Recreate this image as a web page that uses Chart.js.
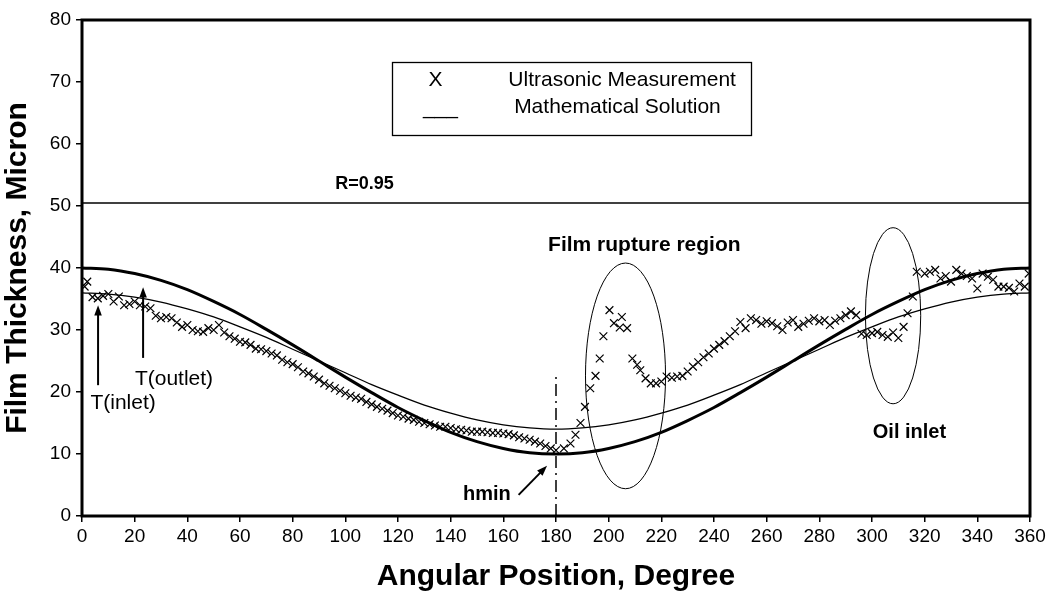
<!DOCTYPE html>
<html>
<head>
<meta charset="utf-8">
<script src="https://cdn.jsdelivr.net/npm/chart.js@4/dist/chart.umd.min.js"></script>
<style>
  html, body { margin: 0; padding: 0; background: #fff; }
  #wrap { width: 1054px; height: 595px; }
</style>
</head>
<body>
<div id="wrap"><canvas id="chart"></canvas></div>
<script>
// ultrasonic measurement points (angle in degrees, film thickness in micron)
const measAngle = [
  1, 2, 4, 6, 8, 10, 12, 14, 16, 18, 20, 22, 24, 26, 28, 30, 32, 34, 36, 38,
  40, 42, 44, 46, 48, 50, 52, 54, 56, 58, 60, 62, 64, 66, 68, 70, 72, 74, 76, 78,
  80, 82, 84, 86, 88, 90, 92, 94, 96, 98, 100, 102, 104, 106, 108, 110, 112, 114, 116, 118,
  120, 122, 124, 126, 128, 130, 132, 134, 136, 138, 140, 142, 144, 146, 148, 150, 152, 154, 156, 158,
  160, 162, 164, 166, 168, 170, 172, 174, 176, 178, 180, 183, 185.5, 187.4, 189.3, 191, 193, 195, 196.6, 198,
  200.3, 202, 204.2, 205, 207, 209, 210.8, 212, 214, 216, 218, 220, 222, 224, 226, 228, 230, 232, 234, 236,
  238, 240, 242, 244, 246, 248, 250, 252, 254, 256, 258, 260, 262, 264, 266, 268, 270, 272, 274, 276,
  278, 280, 282, 284, 286, 288, 290, 292, 294, 296, 298, 300, 302, 304, 306, 308, 310, 312, 313.5, 315.5,
  317, 320, 322, 324, 326, 328, 330, 332, 334, 336, 338, 340, 342, 344, 346, 348, 350, 352, 354, 356,
  358, 359.5
];
const measThick = [
  37.0, 37.8, 35.3, 35.1, 35.5, 35.8, 34.6, 35.4, 34.0, 34.2, 34.6, 34.0, 33.8, 33.5, 32.3, 31.9, 32.1, 31.9, 31.2, 30.5,
  30.8, 30.0, 29.8, 29.7, 30.3, 30.0, 30.8, 29.6, 29.0, 28.6, 28.1, 28.0, 27.6, 27.0, 26.9, 26.6, 26.2, 25.9, 25.2, 24.8,
  24.5, 24.0, 23.3, 23.0, 22.5, 22.0, 21.4, 21.0, 20.6, 20.2, 19.8, 19.4, 19.1, 18.9, 18.4, 18.0, 17.6, 17.3, 17.0, 16.6,
  16.2, 16.0, 15.7, 15.5, 15.2, 15.0, 14.8, 14.6, 14.4, 14.4, 14.2, 14.0, 13.9, 13.8, 13.6, 13.6, 13.6, 13.5, 13.4, 13.4,
  13.3, 13.2, 13.0, 12.7, 12.5, 12.3, 12.0, 11.7, 11.3, 10.9, 10.6, 10.9, 11.7, 13.1, 15.0, 17.6, 20.6, 22.6, 25.4, 29.0,
  33.2, 31.1, 30.4, 32.1, 30.3, 25.4, 24.4, 23.5, 22.2, 21.4, 21.4, 21.7, 22.5, 22.3, 22.5, 22.6, 23.3, 24.1, 24.8, 25.6,
  26.2, 27.0, 27.6, 28.2, 29.0, 29.8, 31.3, 30.3, 31.9, 31.6, 31.0, 31.4, 31.1, 30.6, 30.0, 31.2, 31.6, 30.5, 31.0, 31.5,
  31.9, 31.4, 31.6, 30.8, 31.5, 31.9, 32.4, 33.0, 32.4, 29.4, 29.2, 29.5, 29.7, 29.2, 28.9, 29.6, 28.7, 30.5, 32.7, 35.4,
  39.4, 39.1, 39.4, 39.7, 38.3, 38.7, 37.8, 39.7, 39.1, 38.7, 38.3, 36.7, 39.1, 38.6, 38.1, 37.0, 37.0, 36.8, 36.2, 37.5,
  37.0, 39.1
];

// mathematical solution, read every 10 degrees
const curveAngle = [0, 10, 20, 30, 40, 50, 60, 70, 80, 90, 100, 110, 120, 130, 140, 150, 160, 170, 180,
  190, 200, 210, 220, 230, 240, 250, 260, 270, 280, 290, 300, 310, 320, 330, 340, 350, 360];
const thickCurve = [40.0, 39.8, 39.1, 38.0, 36.5, 34.6, 32.5, 30.1, 27.6, 25.0, 22.4, 19.9, 17.5, 15.4, 13.5, 12.0, 10.9, 10.2, 10.0,
  10.2, 10.9, 12.0, 13.5, 15.4, 17.5, 19.9, 22.4, 25.0, 27.6, 30.1, 32.5, 34.6, 36.5, 38.0, 39.1, 39.8, 40.0];
const thinCurve = [36.0, 35.8, 35.3, 34.5, 33.4, 32.1, 30.5, 28.8, 26.9, 25.0, 23.1, 21.2, 19.5, 17.9, 16.6, 15.5, 14.7, 14.2, 14.0,
  14.2, 14.7, 15.5, 16.6, 17.9, 19.5, 21.2, 23.1, 25.0, 26.9, 28.8, 30.5, 32.1, 33.4, 34.5, 35.3, 35.8, 36.0];

// R=0.95 reference line and hmin marker
const rLineAngle = [0, 360];
const rLineValue = [50.5, 50.5];
const hminAngle = [180, 180];
const hminValue = [0, 23.2];

// axis ranges and tick steps [min, max, step]
const xAxis = [0, 360, 20];
const yAxis = [0, 80, 10];

const FONT = "Arial, 'Liberation Sans', sans-serif";

function pts(xs, ys) {
  return xs.map((x, i) => ({ x: x, y: ys[i] }));
}

// things drawn on top: frame, legend box, labels, arrows, ellipses
const notes = {
  texts: [
    { t: "R=0.95", x: 96.2, y: 53.5, bold: true, size: 18 },
    { t: "Film rupture region", x: 177, y: 43.7, bold: true, size: 21 },
    { t: "Oil inlet", x: 300.3, y: 13.4, bold: true, size: 20 },
    { t: "hmin", x: 144.7, y: 3.4, bold: true, size: 20 },
    { t: "T(inlet)", x: 3.2, y: 18.2, bold: false, size: 21 },
    { t: "T(outlet)", x: 20.1, y: 22.1, bold: false, size: 21 }
  ],
  arrows: [
    { x1: 6.1, y1: 21.1, x2: 6.1, y2: 34.0 },
    { x1: 23.2, y1: 25.5, x2: 23.2, y2: 36.9 },
    { x1: 165.8, y1: 3.4, x2: 176.6, y2: 8.1 }
  ],
  ellipses: [
    { cx: 206.4, cy: 22.6, rx: 15.2, ry: 18.2 },
    { cx: 308, cy: 32.3, rx: 10.5, ry: 14.2 }
  ],
  legend: {
    box: { x1: 117.8, y1: 73.2, x2: 254, y2: 61.5 },
    rows: [
      { mark: "X", mx: 134.2, my: 70.3, label: "Ultrasonic Measurement", lx: 161.9, ly: 70.3 },
      { mark: "___", mx: 136.1, my: 64.8, label: "Mathematical Solution", lx: 164.1, ly: 66.0 }
    ]
  }
};

const overlay = {
  id: "overlay",
  afterDatasetsDraw(chart) {
    const c = chart.ctx, a = chart.chartArea;
    const xs = chart.scales.x, ys = chart.scales.y;
    const px = v => xs.getPixelForValue(v), py = v => ys.getPixelForValue(v);
    c.save();
    c.strokeStyle = "#000";
    c.fillStyle = "#000";

    // ellipses
    c.lineWidth = 1;
    notes.ellipses.forEach(e => {
      c.beginPath();
      c.ellipse(px(e.cx), py(e.cy), Math.abs(px(e.cx + e.rx) - px(e.cx)),
        Math.abs(py(e.cy + e.ry) - py(e.cy)), 0, 0, Math.PI * 2);
      c.stroke();
    });

    // arrows
    c.lineWidth = 2;
    notes.arrows.forEach(r => {
      const x1 = px(r.x1), y1 = py(r.y1), x2 = px(r.x2), y2 = py(r.y2);
      const ang = Math.atan2(y2 - y1, x2 - x1);
      c.beginPath();
      c.moveTo(x1, y1);
      c.lineTo(x2 - 6 * Math.cos(ang), y2 - 6 * Math.sin(ang));
      c.stroke();
      c.beginPath();
      c.moveTo(x2, y2);
      c.lineTo(x2 - 11 * Math.cos(ang - 0.35), y2 - 11 * Math.sin(ang - 0.35));
      c.lineTo(x2 - 11 * Math.cos(ang + 0.35), y2 - 11 * Math.sin(ang + 0.35));
      c.closePath();
      c.fill();
    });

    // text labels
    c.textBaseline = "middle";
    c.textAlign = "left";
    notes.texts.forEach(t => {
      c.font = (t.bold ? "bold " : "") + t.size + "px " + FONT;
      c.fillText(t.t, px(t.x), py(t.y));
    });

    // legend box
    const L = notes.legend;
    c.fillStyle = "#fff";
    const bx = Math.round(px(L.box.x1)), by = Math.round(py(L.box.y1));
    const bw = Math.round(px(L.box.x2)) - bx, bh = Math.round(py(L.box.y2)) - by;
    c.fillRect(bx, by, bw, bh);
    c.fillStyle = "#000";
    c.lineWidth = 1.3;
    c.strokeRect(bx + 0.5, by + 0.5, bw, bh);
    c.font = "21px " + FONT;
    L.rows.forEach(r => {
      c.textAlign = "center";
      c.textBaseline = r.mark === "X" ? "middle" : "alphabetic";
      c.fillText(r.mark, px(r.mx), py(r.my));
      c.textAlign = "left";
      c.textBaseline = "middle";
      c.fillText(r.label, px(r.lx), py(r.ly));
    });

    // plot frame
    c.lineWidth = 3;
    c.strokeRect(a.left, a.top, a.right - a.left, a.bottom - a.top);
    c.restore();
  }
};

new Chart(document.getElementById("chart"), {
  type: "scatter",
  data: {
    datasets: [
      {
        label: "Ultrasonic Measurement",
        data: pts(measAngle, measThick),
        pointStyle: "crossRot",
        pointRadius: 5.5,
        borderColor: "#000",
        backgroundColor: "#000",
        borderWidth: 1.2,
        showLine: false
      },
      {
        label: "Mathematical Solution",
        data: pts(curveAngle, thickCurve),
        showLine: true,
        pointRadius: 0,
        borderColor: "#000",
        borderWidth: 3,
        cubicInterpolationMode: "monotone"
      },
      {
        label: "Mathematical Solution (R)",
        data: pts(curveAngle, thinCurve),
        showLine: true,
        pointRadius: 0,
        borderColor: "#000",
        borderWidth: 1.3,
        cubicInterpolationMode: "monotone"
      },
      {
        label: "R=0.95",
        data: pts(rLineAngle, rLineValue),
        showLine: true,
        pointRadius: 0,
        borderColor: "#000",
        borderWidth: 1.5
      },
      {
        label: "hmin",
        data: pts(hminAngle, hminValue),
        showLine: true,
        pointRadius: 0,
        borderColor: "#000",
        borderWidth: 1.5,
        borderDash: [12, 5, 2, 5]
      }
    ]
  },
  options: {
    responsive: true,
    maintainAspectRatio: false,
    animation: false,
    layout: { padding: { left: 0, top: 20, right: 24, bottom: 0 } },
    plugins: {
      legend: { display: false },
      tooltip: { enabled: false }
    },
    scales: {
      x: {
        type: "linear",
        min: xAxis[0],
        max: xAxis[1],
        afterFit: s => { s.height = 79; },
        ticks: {
          stepSize: xAxis[2],
          autoSkip: false,
          maxRotation: 0,
          color: "#000",
          padding: 3,
          font: { family: FONT, size: 19 }
        },
        grid: { drawOnChartArea: false, drawTicks: true, tickLength: 6, color: "#000", lineWidth: 1.5 },
        border: { display: false },
        title: {
          display: true,
          text: "Angular Position, Degree",
          color: "#000",
          padding: { top: 0, bottom: 0 },
          font: { family: FONT, size: 30, weight: "bold" }
        }
      },
      y: {
        min: yAxis[0],
        max: yAxis[1],
        afterFit: s => { s.width = 82; },
        ticks: {
          stepSize: yAxis[2],
          color: "#000",
          padding: 5,
          font: { family: FONT, size: 19 }
        },
        grid: { drawOnChartArea: false, drawTicks: true, tickLength: 6, color: "#000", lineWidth: 1.5 },
        border: { display: false },
        title: {
          display: true,
          text: "Film Thickness, Micron",
          color: "#000",
          padding: { top: 0, bottom: 0 },
          font: { family: FONT, size: 30, weight: "bold" }
        }
      }
    }
  },
  plugins: [overlay]
});
</script>
</body>
</html>
